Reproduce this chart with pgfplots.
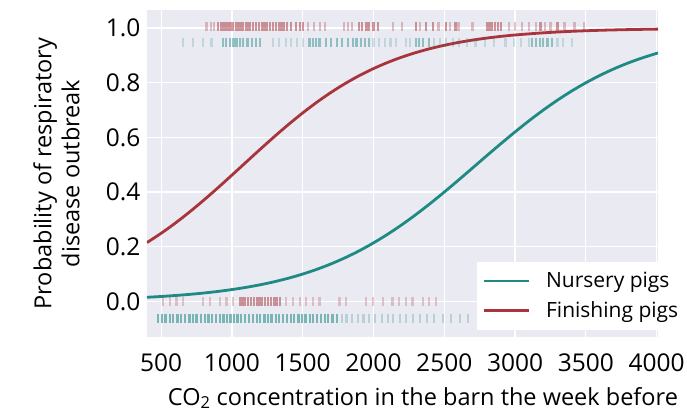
\documentclass[border=0pt]{standalone}
\usepackage{fontspec}
\setmainfont{Open Sans}
\usepackage{pgfplots}
\pgfplotsset{compat=1.18}

\definecolor{bgc}{HTML}{EAEAF2}
\definecolor{nurs}{HTML}{1F8A84}
\definecolor{fini}{HTML}{A8343C}

\newcommand\tickfont{\fontsize{24.5}{28}\selectfont}
\newcommand\labfont{\fontsize{23.5}{28}\selectfont}
\newcommand\legfont{\fontsize{21}{25}\selectfont}

\begin{document}
\begin{tikzpicture}
\begin{axis}[
    scale only axis,
    width=511pt, height=327pt,
    xmin=400, xmax=4010,
    ymin=-0.13, ymax=1.066,
    xtick={500,1000,...,4000},
    ytick={0,0.2,...,1.0},
    grid=major,
    major grid style={white, line width=1.3pt},
    axis line style={draw=none},
    major tick length=0pt,
    axis background/.style={fill=bgc},
    tick label style={font=\tickfont},
    /pgf/number format/assume math mode=true,
    xticklabel style={yshift=-13pt, /pgf/number format/1000 sep={}},
    yticklabel style={xshift=-3pt, /pgf/number format/.cd, fixed, fixed zerofill, precision=1},
    xlabel={CO\textsubscript{2} concentration in the barn the week before},
    xlabel style={font=\labfont, at={(axis description cs:0.54,-0.208)}, anchor=base},
    ylabel={Probability of respiratory\\disease outbreak},
    ylabel style={font=\labfont, align=center, at={(axis description cs:-0.125,0.5)}, anchor=south},
    legend style={at={(rel axis cs:0.646,0.021)}, anchor=south west,
        fill=white, draw=none, font=\legfont, row sep=8pt, column sep=14pt,
        inner xsep=5pt, inner ysep=9pt, nodes={inner sep=2pt}},
    legend cell align=left,
    legend image code/.code={\draw[#1, line width=2.8pt] (0pt,0pt) -- (45pt,0pt);},
    rug/.style={only marks, mark=|, mark size=4.7pt, forget plot,
        mark options={line width=2.2pt, draw opacity=#1}},
    curve/.style={line width=2.8pt, smooth, forget plot},
]
\addlegendimage{nurs}
\addlegendentry{Nursery pigs}
\addlegendimage{fini}
\addlegendentry{Finishing pigs}

% rugs: finishing pigs, outbreak (y = 1)
\addplot[fini, rug=0.3] coordinates {
(820,1.005)(850,1.005)(875,1.005)(1540,1.005)(1580,1.005)(1620,1.005)(1660,1.005)
(1790,1.005)(1820,1.005)(1850,1.005)(2140,1.005)(2200,1.005)(2330,1.005)(2460,1.005)
(2540,1.005)(2600,1.005)(2700,1.005)(2960,1.005)(3000,1.005)(3050,1.005)(3100,1.005)
(3150,1.005)(3210,1.005)(3250,1.005)(3350,1.005)(3420,1.005)(3490,1.005)};
\addplot[fini, rug=0.5] coordinates {
(900,1.005)(920,1.005)(940,1.005)(960,1.005)(975,1.005)(990,1.005)(1010,1.005)
(1030,1.005)(1045,1.005)(1060,1.005)(1080,1.005)(1100,1.005)(1115,1.005)(1130,1.005)
(1150,1.005)(1170,1.005)(1190,1.005)(1210,1.005)(1230,1.005)(1250,1.005)(1270,1.005)
(1290,1.005)(1310,1.005)(1330,1.005)(1350,1.005)(1370,1.005)(1390,1.005)(1420,1.005)
(1450,1.005)(1480,1.005)(1500,1.005)(1900,1.005)(1920,1.005)(1950,1.005)(1970,1.005)
(2000,1.005)(2030,1.005)(2300,1.005)(2370,1.005)(2420,1.005)(2510,1.005)(2580,1.005)
(2800,1.005)(2820,1.005)(2840,1.005)(2860,1.005)(2880,1.005)(2900,1.005)
(3180,1.005)(3300,1.005)};
% rugs: nursery pigs, outbreak
\addplot[nurs, rug=0.2] coordinates {
(656,0.947)(726,0.947)(797,0.947)(856,0.947)(1290,0.947)(1330,0.947)(1380,0.947)
(1420,0.947)(1460,0.947)(1500,0.947)(2000,0.947)(2040,0.947)(2080,0.947)(2120,0.947)
(2159,0.947)(2230,0.947)(2260,0.947)(2430,0.947)(2470,0.947)(2510,0.947)(2560,0.947)
(2605,0.947)(2660,0.947)(2720,0.947)(2790,0.947)(2850,0.947)(2933,0.947)(2990,0.947)
(3040,0.947)(3098,0.947)(3300,0.947)(3340,0.947)(3400,0.947)};
\addplot[nurs, rug=0.45] coordinates {
(938,0.947)(960,0.947)(985,0.947)(1008,0.947)(1020,0.947)(1035,0.947)(1055,0.947)
(1080,0.947)(1110,0.947)(1140,0.947)(1170,0.947)(1196,0.947)(1548,0.947)(1570,0.947)
(1595,0.947)(1619,0.947)(1666,0.947)(1700,0.947)(1740,0.947)(1780,0.947)(1820,0.947)
(1853,0.947)(1880,0.947)(1910,0.947)(1940,0.947)(1971,0.947)(2300,0.947)(2320,0.947)
(2347,0.947)(2390,0.947)(3121,0.947)(3150,0.947)(3175,0.947)(3200,0.947)(3230,0.947)
(3260,0.947)};
% rugs: finishing pigs, no outbreak (y = 0)
\addplot[fini, rug=0.25] coordinates {
(515,0.0)(562,0.0)(609,0.0)(656,0.0)(797,0.0)(844,0.0)(914,0.0)(961,0.0)(1008,0.0)
(1384,0.0)(1430,0.0)(1480,0.0)(1525,0.0)(1572,0.0)(1619,0.0)(1760,0.0)(1806,0.0)
(1947,0.0)(1994,0.0)(2065,0.0)(2135,0.0)(2182,0.0)(2229,0.0)(2276,0.0)(2347,0.0)
(2394,0.0)(2440,0.0)};
\addplot[fini, rug=0.5] coordinates {
(1055,0.0)(1075,0.0)(1095,0.0)(1115,0.0)(1135,0.0)(1155,0.0)(1175,0.0)(1195,0.0)
(1215,0.0)(1235,0.0)(1255,0.0)(1275,0.0)(1295,0.0)(1315,0.0)(1337,0.0)};
% rugs: nursery pigs, no outbreak
\addplot[nurs, rug=0.55] coordinates {
(480,-0.062)(505,-0.062)(530,-0.062)(560,-0.062)(585,-0.062)(615,-0.062)(640,-0.062)
(670,-0.062)(700,-0.062)(725,-0.062)(750,-0.062)(780,-0.062)(810,-0.062)(835,-0.062)
(860,-0.062)(890,-0.062)(915,-0.062)(940,-0.062)(965,-0.062)(990,-0.062)(1015,-0.062)
(1040,-0.062)(1065,-0.062)(1090,-0.062)(1120,-0.062)(1150,-0.062)(1175,-0.062)
(1200,-0.062)(1230,-0.062)(1255,-0.062)(1280,-0.062)(1310,-0.062)(1335,-0.062)
(1360,-0.062)(1390,-0.062)(1415,-0.062)(1440,-0.062)(1470,-0.062)(1495,-0.062)
(1520,-0.062)(1550,-0.062)(1575,-0.062)(1600,-0.062)(1630,-0.062)(1655,-0.062)
(1680,-0.062)(1710,-0.062)(1740,-0.062)};
\addplot[nurs, rug=0.25] coordinates {
(1775,-0.062)(1810,-0.062)(1850,-0.062)(1890,-0.062)(1930,-0.062)(1970,-0.062)
(2010,-0.062)(2060,-0.062)(2100,-0.062)(2140,-0.062)(2190,-0.062)(2230,-0.062)
(2280,-0.062)(2330,-0.062)(2380,-0.062)(2430,-0.062)(2490,-0.062)(2550,-0.062)
(2610,-0.062)(2670,-0.062)};

% fitted curves
\addplot[nurs, curve] table {
x y
400 0.0153
500 0.0182
600 0.0218
700 0.0259
800 0.0308
900 0.0366
1000 0.0435
1100 0.0516
1200 0.0611
1300 0.0722
1400 0.0852
1500 0.1002
1600 0.1175
1700 0.1374
1800 0.1600
1900 0.1855
2000 0.2142
2100 0.2458
2200 0.2805
2300 0.3180
2400 0.3580
2500 0.4001
2600 0.4437
2700 0.4883
2800 0.5330
2900 0.5771
3000 0.6201
3100 0.6613
3200 0.7001
3300 0.7363
3400 0.7696
3500 0.7998
3600 0.8269
3700 0.8511
3800 0.8724
3900 0.8910
4010 0.9090
};
\addplot[fini, curve] table {
x y
400 0.2155
500 0.2494
600 0.2866
700 0.3270
800 0.3701
900 0.4153
1000 0.4621
1100 0.5095
1200 0.5567
1300 0.6030
1400 0.6475
1500 0.6896
1600 0.7287
1700 0.7646
1800 0.7971
1900 0.8261
2000 0.8517
2100 0.8741
2200 0.8936
2300 0.9103
2400 0.9247
2500 0.9369
2600 0.9473
2700 0.9560
2800 0.9633
2900 0.9695
3000 0.9746
3200 0.9825
3400 0.9880
3600 0.9918
3800 0.9943
4010 0.9961
};
\end{axis}
\pgfresetboundingbox
\path (current axis.south west) ++(-147pt,-78pt) rectangle ++(687pt,415pt);
\end{tikzpicture}
\end{document}
